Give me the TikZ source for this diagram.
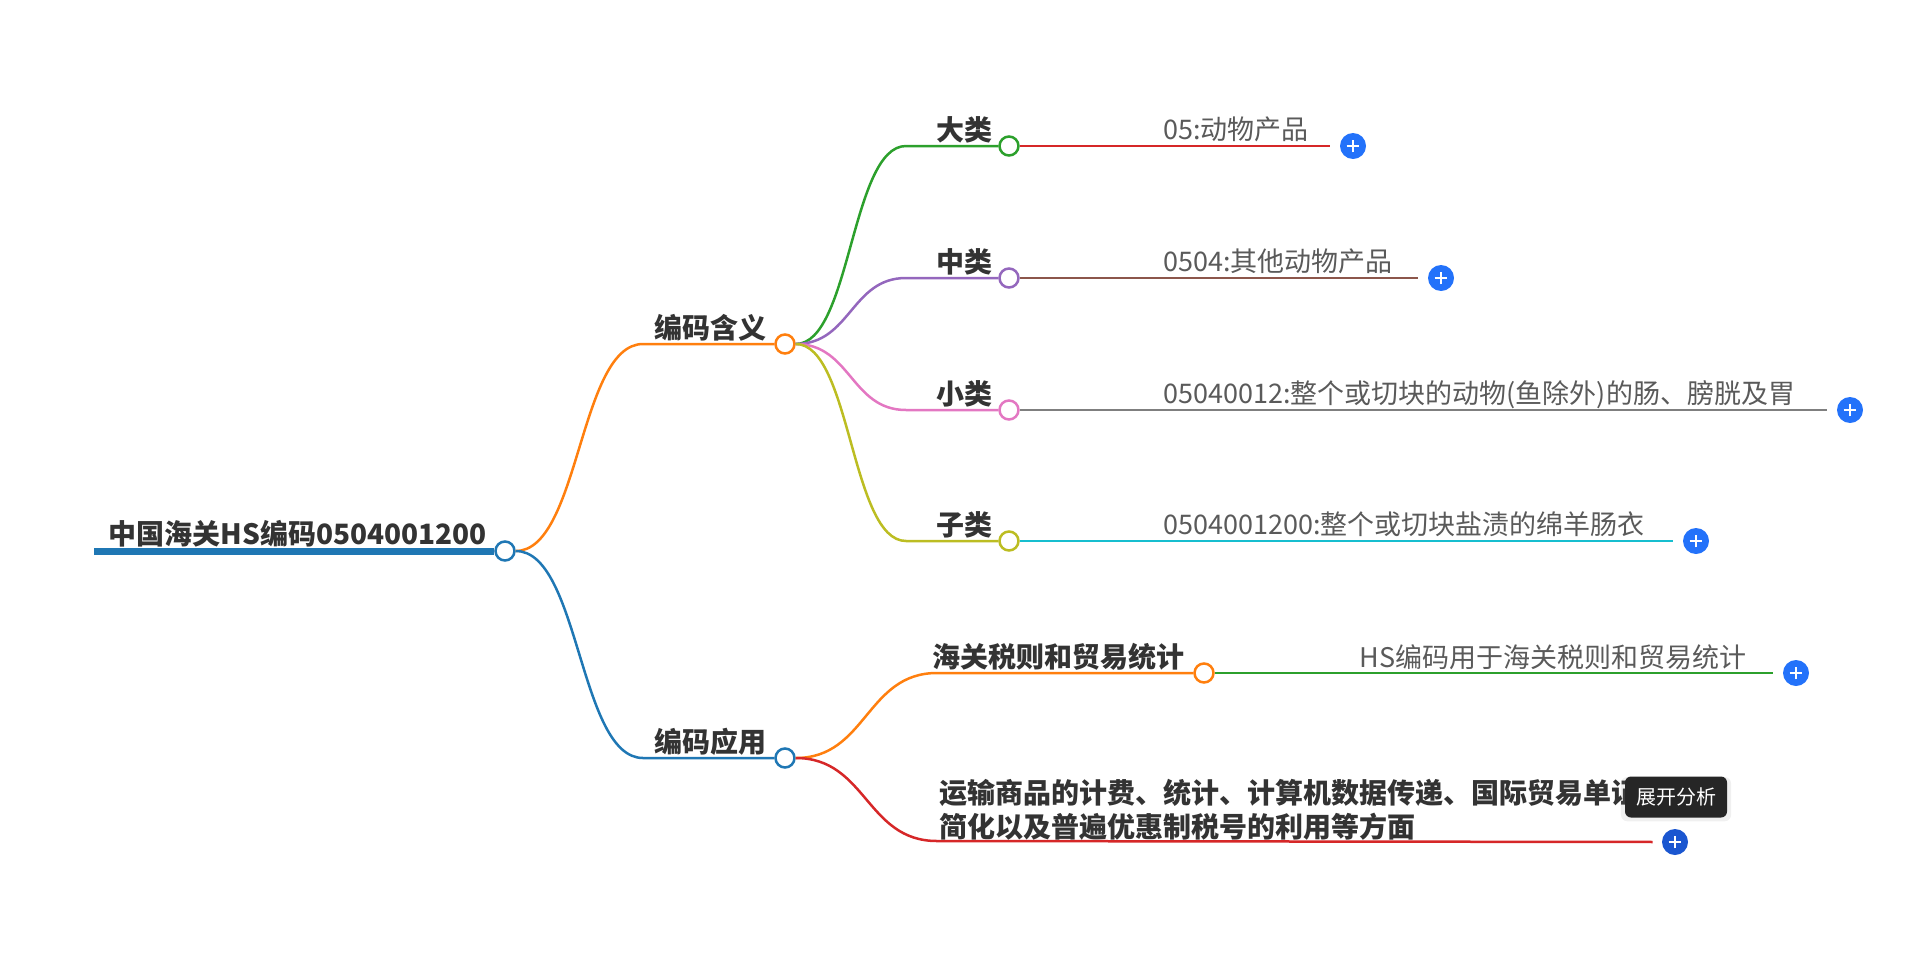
\documentclass[tikz,border=0pt]{standalone}
\usepackage{fontspec}
\setmainfont{Noto Sans CJK SC}
\usetikzlibrary{shadows}
\definecolor{cblue}{HTML}{1F77B4}
\definecolor{corange}{HTML}{FF7F0E}
\definecolor{cgreen}{HTML}{2CA02C}
\definecolor{cred}{HTML}{D62728}
\definecolor{cpurple}{HTML}{9467BD}
\definecolor{cbrown}{HTML}{8C564B}
\definecolor{cpink}{HTML}{E377C2}
\definecolor{cgray}{HTML}{7F7F7F}
\definecolor{colive}{HTML}{BCBD22}
\definecolor{ccyan}{HTML}{17BECF}
\definecolor{plusblue}{HTML}{2372FA}
\definecolor{plushover}{HTML}{1A56D0}
\definecolor{textdark}{HTML}{333333}
\definecolor{textgray}{HTML}{5A5A5A}
\definecolor{tipdark}{HTML}{262626}
\begin{document}
\begin{tikzpicture}[x=0.5pt,y=-0.5pt]
    \tikzstyle{hub node}=[circle,draw,fill=white,line width=1.25pt,minimum size=9.5pt,inner sep=0]
    \tikzstyle{plus node}=[circle,fill=plusblue,minimum size=13pt,inner sep=0,
      path picture={\draw[white,line width=1.3pt]
        ([xshift=-3.2pt]path picture bounding box.center) -- ([xshift=3.2pt]path picture bounding box.center)
        ([yshift=-3.2pt]path picture bounding box.center) -- ([yshift=3.2pt]path picture bounding box.center);}]
    \tikzset{
    title node/.style={font=\fontsize{14}{17}\selectfont\bfseries,text=textdark,inner sep=0,anchor=base east},
    leaf node/.style={font=\fontsize{13.5}{17}\selectfont,text=textgray,inner sep=0,anchor=base west},
    tip node/.style={rectangle,rounded corners=3pt,fill=tipdark,text=white,minimum width=51pt,minimum height=20.5pt,
      inner sep=0,font=\fontsize{10}{12}\selectfont,drop shadow={opacity=0.12,shadow xshift=0pt,shadow yshift=-1pt,shadow scale=1.08}},
    branch/.style={line width=1.25pt},
    twig/.style={line width=1pt,shorten >=5pt}
    }
    \useasboundingbox (0,0) rectangle (1920,953);

    \node[hub node,draw=cblue] (root) at (505,551) {};
    \coordinate (rootend) at (94,551);
    \draw[cblue,line width=3.5pt] (rootend) -- (root.west);
    \node[title node] (roottext) at (487,544) {中国海关HS编码0504001200};

    \node[hub node,draw=corange] (meaning) at (785,344) {};
    \node[title node] (meaningtext) at (767,338) {编码含义};
    \coordinate (meaningin) at (643,344);
    \draw[branch,corange] (root.east) .. controls +(64,0) and +(-64,0) .. (meaningin) -- (meaning.west);

    \node[hub node,draw=cblue] (usage) at (785,758) {};
    \node[title node] (usagetext) at (767,752) {编码应用};
    \coordinate (usagein) at (643,758);
    \draw[branch,cblue] (root.east) .. controls +(64,0) and +(-64,0) .. (usagein) -- (usage.west);

    \node[hub node,draw=cgreen] (major) at (1009,146) {};
    \node[title node] (majortext) at (993,140) {大类};
    \coordinate (majorin) at (906,146);
    \draw[branch,cgreen] (meaning.east) .. controls +(55,0) and +(-55,0) .. (majorin) -- (major.west);
    \node[plus node] (majorplus) at (1353,146) {};
    \draw[twig,cred] (major.east) -- (majorplus.west);
    \node[leaf node] (majorleaf) at (1163,139) {05:动物产品};

    \node[hub node,draw=cpurple] (middle) at (1009,278) {};
    \node[title node] (middletext) at (993,272) {中类};
    \coordinate (middlein) at (906,278);
    \draw[branch,cpurple] (meaning.east) .. controls +(55,0) and +(-55,0) .. (middlein) -- (middle.west);
    \node[plus node] (middleplus) at (1441,278) {};
    \draw[twig,cbrown] (middle.east) -- (middleplus.west);
    \node[leaf node] (middleleaf) at (1163,271) {0504:其他动物产品};

    \node[hub node,draw=cpink] (minor) at (1009,410) {};
    \node[title node] (minortext) at (993,404) {小类};
    \coordinate (minorin) at (906,410);
    \draw[branch,cpink] (meaning.east) .. controls +(55,0) and +(-55,0) .. (minorin) -- (minor.west);
    \node[plus node] (minorplus) at (1850,410) {};
    \draw[twig,cgray] (minor.east) -- (minorplus.west);
    \node[leaf node] (minorleaf) at (1163,403) {05040012:整个或切块的动物(鱼除外)的肠、膀胱及胃};

    \node[hub node,draw=colive] (sub) at (1009,541) {};
    \node[title node] (subtext) at (993,535) {子类};
    \coordinate (subin) at (906,541);
    \draw[branch,colive] (meaning.east) .. controls +(55,0) and +(-55,0) .. (subin) -- (sub.west);
    \node[plus node] (subplus) at (1696,541) {};
    \draw[twig,ccyan] (sub.east) -- (subplus.west);
    \node[leaf node] (subleaf) at (1163,534) {0504001200:整个或切块盐渍的绵羊肠衣};

    \node[hub node,draw=corange] (tariff) at (1204,673) {};
    \node[title node] (tarifftext) at (1185,667) {海关税则和贸易统计};
    \coordinate (tariffin) at (937,673);
    \draw[branch,corange] (usage.east) .. controls +(71,0) and +(-71,0) .. (tariffin) -- (tariff.west);
    \node[plus node] (tariffplus) at (1796,673) {};
    \draw[twig,cgreen] (tariff.east) -- (tariffplus.west);
    \node[leaf node] (tariffleaf) at (1359,667) {HS编码用于海关税则和贸易统计};

    \coordinate (transportin) at (937,841);
    \node[plus node,fill=plushover] (transportplus) at (1675,842) {};
    \draw[branch,cred,shorten >=4.5pt] (usage.east) .. controls +(71,0) and +(-71,0) .. (transportin) -- (transportplus.west);
    \node[title node,anchor=north west,align=left] (transporttext) at (939,779)
      {运输商品的计费、统计、计算机数据传递、国际贸易单证\\简化以及普遍优惠制税号的利用等方面};

    \node[tip node] (tooltip) at (1676,797) {展开分析};
\end{tikzpicture}
\end{document}
